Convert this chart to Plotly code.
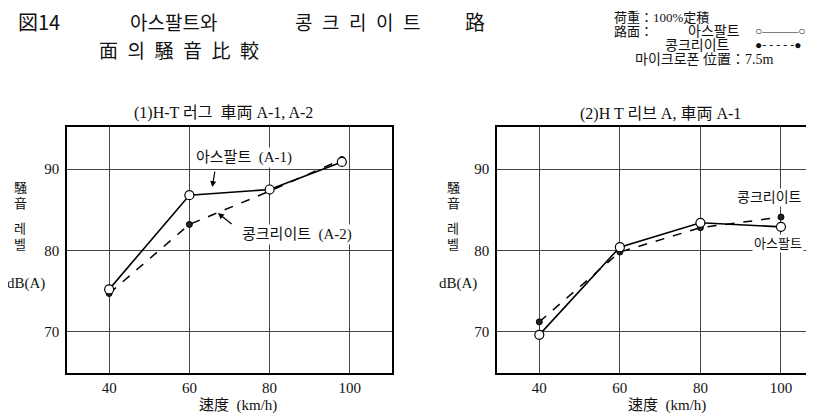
import plotly.graph_objects as go

# the page puts the figure 8px in from the top-left, so the figure is 8px smaller
OFF = 8
W, H = 814 - OFF, 416 - OFF

# (1) H-T 러그, 차량 A-1 / A-2
speed_1 = [40, 60, 80, 98]
asphalt_1 = [75.2, 86.8, 87.5, 90.9]
concrete_1 = [74.7, 83.2, 87.3, 91.2]

# (2) H T 리브 A, 차량 A-1
speed_2 = [40, 60, 80, 100]
asphalt_2 = [69.6, 80.4, 83.4, 82.9]
concrete_2 = [71.2, 79.8, 82.8, 84.1]

x_ticks = [40, 60, 80, 100]
y_ticks = [70, 80, 90]

SERIF = "Liberation Serif, Noto Sans CJK KR"
CJK = "Noto Sans CJK KR"


def px(x, y):
    return (x - OFF) / W, 1 - (y - OFF) / H


fig = go.Figure()

for xa, ya, sp, asp, con in [("x", "y", speed_1, asphalt_1, concrete_1),
                             ("x2", "y2", speed_2, asphalt_2, concrete_2)]:
    fig.add_trace(go.Scatter(
        x=sp, y=con, xaxis=xa, yaxis=ya, mode="lines+markers",
        line=dict(color="black", width=1.5, dash="dash"),
        marker=dict(symbol="circle", size=6, color="#222",
                    line=dict(color="black", width=1)),
        showlegend=False, hoverinfo="skip"))
    fig.add_trace(go.Scatter(
        x=sp, y=asp, xaxis=xa, yaxis=ya, mode="lines+markers",
        line=dict(color="black", width=1.6),
        marker=dict(symbol="circle", size=9, color="white",
                    line=dict(color="black", width=1.2)),
        showlegend=False, hoverinfo="skip"))

axis_common = dict(
    showgrid=True, gridcolor="#444", gridwidth=1,
    showline=True, linecolor="black", linewidth=1.5,
    zeroline=False, ticks="",
    tickfont=dict(family=SERIF, size=15, color="#111"),
)

x0, _ = px(67, 0)
x1, _ = px(392, 0)
x2, _ = px(497, 0)
_, yb = px(0, 373)
_, yt = px(0, 127)
fig.update_layout(
    width=W, height=H,
    margin=dict(l=0, r=0, t=0, b=0),
    paper_bgcolor="white", plot_bgcolor="white",
    xaxis=dict(domain=[x0, x1], range=[29.5, 110.5],
               tickvals=x_ticks, anchor="y", mirror=True, **axis_common),
    yaxis=dict(domain=[yb, yt], range=[64.9, 95.2], tickvals=y_ticks,
               anchor="x", mirror=True, ticklabelstandoff=3, **axis_common),
    xaxis2=dict(domain=[x2, 1.0], range=[29.5, 108.2],
                tickvals=x_ticks, anchor="y2", mirror=True, **axis_common),
    yaxis2=dict(domain=[yb, yt], range=[64.9, 95.2], tickvals=y_ticks,
                anchor="x2", ticklabelstandoff=3, **axis_common),
)

ann = []


def txt(x, y, s, size=13, family=SERIF, xanchor="center", **kw):
    xp, yp = px(x, y)
    ann.append(dict(x=xp, y=yp, xref="paper", yref="paper", text=s,
                    showarrow=False, xanchor=xanchor, yanchor="middle",
                    font=dict(family=family, size=size, color="#111"), **kw))


# heading
txt(16, 21, "図14", size=20, family=CJK, xanchor="left")
txt(128, 21, "아스팔트와", size=19, family=CJK, xanchor="left")
txt(293, 21, "콩\u2002크\u2002리\u2002이\u2002트", size=19, family=CJK, xanchor="left")
txt(463, 21, "路", size=20, family=CJK, xanchor="left")
txt(97, 50, "面\u2002의\u2002騒\u2002音\u2002比\u2002較", size=19, family=CJK, xanchor="left")

# conditions box
txt(612, 17, "荷重：100%定積", size=13, xanchor="left")
txt(612, 31, "路面：", size=13, xanchor="left")
txt(686, 31, "아스팔트", size=14, xanchor="left")
txt(753, 31, "○———○", size=12, xanchor="left")
txt(663, 45, "콩크리이트", size=14, xanchor="left")
txt(753, 45, "●- - - - -●", size=12, xanchor="left")
txt(633, 59, "마이크로폰 位置：7.5m", size=14, xanchor="left")

# subplot titles
txt(224, 113, "(1)H-T 러그  車両 A-1, A-2", size=16)
txt(660, 114, "(2)H T 리브 A, 車両 A-1", size=16)

# axis titles
for cx in (20, 453):
    for cy, ch in [(187, "騒"), (203, "音"), (229, "레"), (244, "벨")]:
        txt(cx, cy, ch, size=13)
txt(26, 283, "dB(A)", size=15)
txt(458, 283, "dB(A)", size=15)
txt(238, 405, "速度  (km/h)", size=15)
txt(667, 405, "速度  (km/h)", size=15)

# in-plot labels
ann.append(dict(x=73.5, y=91.5, xref="x", yref="y", text="아스팔트  (A-1)",
                showarrow=False, bgcolor="white",
                font=dict(family=SERIF, size=15, color="#111")))
ann.append(dict(x=86.9, y=81.9, xref="x", yref="y", text="콩크리이트  (A-2)",
                showarrow=False, bgcolor="white",
                font=dict(family=SERIF, size=15, color="#111")))
ann.append(dict(x=65.7, y=87.8, xref="x", yref="y", ax=66.4, ay=89.9,
                axref="x", ayref="y", text="", showarrow=True,
                arrowhead=2, arrowsize=1, arrowwidth=1.2, arrowcolor="black"))
ann.append(dict(x=67.1, y=84.6, xref="x", yref="y", ax=70.9, ay=83.1,
                axref="x", ayref="y", text="", showarrow=True,
                arrowhead=2, arrowsize=1, arrowwidth=1.2, arrowcolor="black"))
ann.append(dict(x=97.2, y=86.5, xref="x2", yref="y2", text="콩크리이트",
                showarrow=False, bgcolor="white",
                font=dict(family=SERIF, size=14, color="#111")))
ann.append(dict(x=99.2, y=80.9, xref="x2", yref="y2", text="아스팔트",
                showarrow=False, bgcolor="white",
                font=dict(family=SERIF, size=13, color="#111")))

fig.update_layout(annotations=ann)
fig.write_html("out.html")
